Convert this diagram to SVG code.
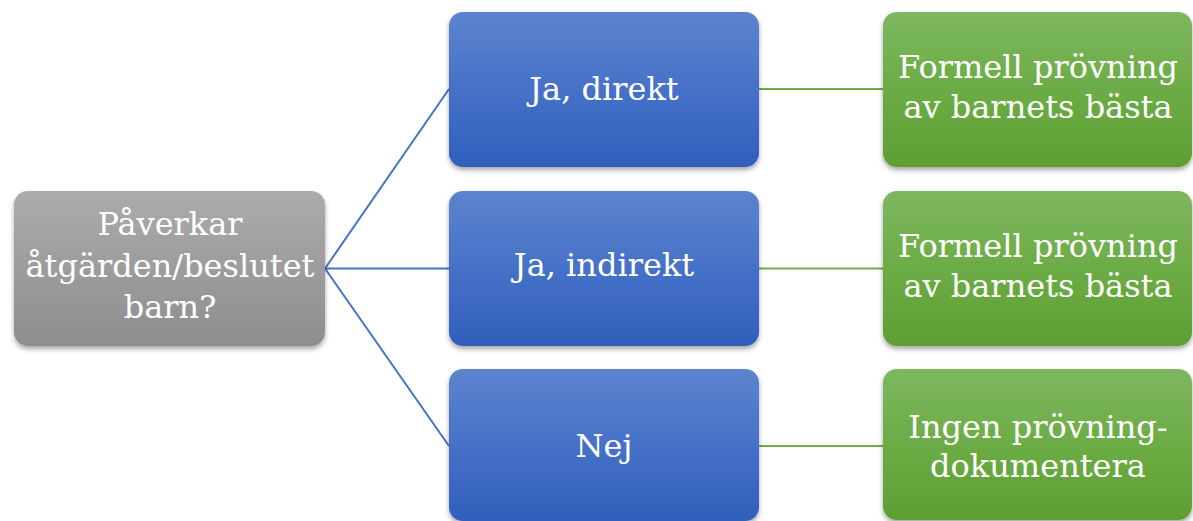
<svg xmlns="http://www.w3.org/2000/svg" width="1193" height="521" viewBox="0 0 1193 521">
<defs>
<linearGradient id="gGray" x1="0" y1="0" x2="0" y2="1"><stop offset="0" stop-color="#ababab"/><stop offset="1" stop-color="#8e8e8e"/></linearGradient>
<linearGradient id="gBlue" x1="0" y1="0" x2="0" y2="1"><stop offset="0" stop-color="#5c84cd"/><stop offset="0.5" stop-color="#4671c8"/><stop offset="1" stop-color="#2f5fbb"/></linearGradient>
<linearGradient id="gGreen" x1="0" y1="0" x2="0" y2="1"><stop offset="0" stop-color="#7db760"/><stop offset="0.5" stop-color="#6cac45"/><stop offset="1" stop-color="#5e9f33"/></linearGradient>
<filter id="sh" x="-10%" y="-10%" width="120%" height="130%"><feDropShadow dx="0" dy="3" stdDeviation="2.5" flood-color="#000" flood-opacity="0.35"/></filter>
</defs>
<style>
.t{font-family:"DejaVu Serif","Liberation Serif",serif;font-size:32px;fill:#ffffff;text-anchor:middle}
.cb{stroke:#4472c4;stroke-width:2;fill:none}
.cg{stroke:#70ad47;stroke-width:2;fill:none}
</style>
<g id="connectors">
<line class="cb" x1="325" y1="268.5" x2="449" y2="89"/>
<line class="cb" x1="325" y1="268.5" x2="449" y2="268.5"/>
<line class="cb" x1="325" y1="268.5" x2="449" y2="446"/>
<line class="cg" x1="759" y1="89" x2="883" y2="89"/>
<line class="cg" x1="759" y1="268.5" x2="883" y2="268.5"/>
<line class="cg" x1="759" y1="446" x2="883" y2="446"/>
</g>
<g id="n-root">
<rect x="14" y="191" width="311" height="155" rx="14" fill="url(#gGray)" filter="url(#sh)"/>
<text class="t"><tspan x="170" y="235">Påverkar</tspan><tspan x="170" y="276.5">åtgärden/beslutet</tspan><tspan x="170" y="318">barn?</tspan></text>
</g>
<g id="n-ja-direkt">
<rect x="449" y="12" width="310" height="155" rx="14" fill="url(#gBlue)" filter="url(#sh)"/>
<text class="t" x="604" y="100">Ja, direkt</text>
</g>
<g id="n-ja-indirekt">
<rect x="449" y="191" width="310" height="155" rx="14" fill="url(#gBlue)" filter="url(#sh)"/>
<text class="t" x="604" y="276">Ja, indirekt</text>
</g>
<g id="n-nej">
<rect x="449" y="369" width="310" height="152" rx="14" fill="url(#gBlue)" filter="url(#sh)"/>
<text class="t" x="604" y="457">Nej</text>
</g>
<g id="n-formell-1">
<rect x="883" y="12" width="309" height="155" rx="14" fill="url(#gGreen)" filter="url(#sh)"/>
<text class="t"><tspan x="1038" y="78">Formell prövning</tspan><tspan x="1038" y="118">av barnets bästa</tspan></text>
</g>
<g id="n-formell-2">
<rect x="883" y="191" width="309" height="155" rx="14" fill="url(#gGreen)" filter="url(#sh)"/>
<text class="t"><tspan x="1038" y="257">Formell prövning</tspan><tspan x="1038" y="297">av barnets bästa</tspan></text>
</g>
<g id="n-ingen">
<rect x="883" y="369" width="309" height="151" rx="14" fill="url(#gGreen)" filter="url(#sh)"/>
<text class="t"><tspan x="1038" y="438">Ingen prövning-</tspan><tspan x="1038" y="477">dokumentera</tspan></text>
</g>
</svg>
